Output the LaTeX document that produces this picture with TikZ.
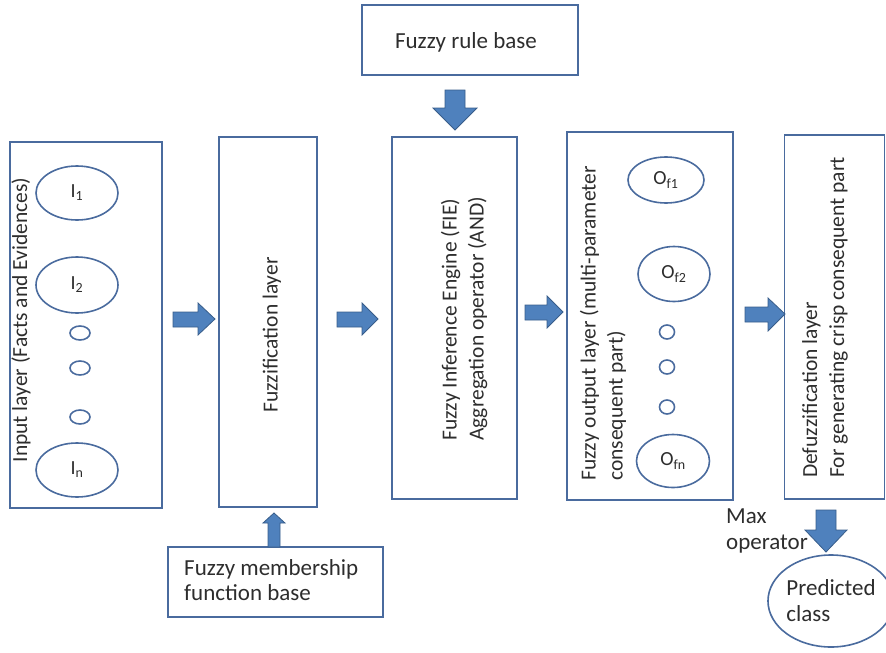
\documentclass[tikz,border=0pt]{standalone}
\usepackage{fontspec}
\setmainfont{Carlito}
\usetikzlibrary{shapes.geometric}
\definecolor{boxline}{RGB}{74,107,158}
\definecolor{arrowfill}{RGB}{79,129,189}
\definecolor{arrowline}{RGB}{56,93,138}
\definecolor{txt}{RGB}{45,45,45}
\tikzset{
  layerbox/.style={draw=boxline, line width=1.6pt, inner sep=0pt, outer sep=0pt, rectangle},
  oval/.style={draw=boxline, line width=1.6pt, ellipse, inner sep=0pt, text=txt, font=\fontsize{20}{22}\selectfont},
  dotoval/.style={draw=boxline, line width=1.6pt, ellipse, inner sep=0pt},
  lbl/.style={text=txt, font=\fontsize{21.5}{27}\selectfont, inner sep=0pt},
  hlbl/.style={text=txt, font=\fontsize{23}{25.5}\selectfont, inner sep=0pt},
  barrow/.style={fill=arrowfill, draw=arrowline, line width=0.8pt, line join=miter},
}
\begin{document}
\begin{tikzpicture}[x=1pt,y=-1pt]
\useasboundingbox (0,0) rectangle (886,653);
% boxes
\node[layerbox, minimum width=152, minimum height=366] (inbox) at (86,325) {};
\node[layerbox, minimum width=98, minimum height=370] (fuzzbox) at (268,322) {};
\node[layerbox, minimum width=125, minimum height=362] (fiebox) at (454.5,318) {};
\node[layerbox, minimum width=166, minimum height=368] (outbox) at (650,316) {};
\node[layerbox, minimum width=100, minimum height=364] (defbox) at (834.5,317) {};
\node[layerbox, minimum width=216, minimum height=70] (rulebox) at (470,40) {};
\node[layerbox, minimum width=215, minimum height=70] (mfbox) at (275.5,582) {};
% box texts
\node[hlbl] (rulet) at (466,42) {Fuzzy rule base};
\node[hlbl, align=left, anchor=west] (mft) at (184,580) {Fuzzy membership\\function base};
\node[lbl, rotate=90] (int) at (21,320) {Input layer (Facts and Evidences)};
\node[lbl, rotate=90] (fuzzt) at (272,335) {Fuzzification layer};
\node[lbl, rotate=90, align=left, anchor=west] (fiet) at (464,441) {Fuzzy Inference Engine (FIE)\\Aggregation operator (AND)};
\node[lbl, rotate=90, align=left, anchor=west] (outt) at (603,481) {Fuzzy output layer (multi-parameter\\consequent part)};
\node[lbl, rotate=90, align=left, anchor=west] (deft) at (825,478) {Defuzzification layer\\For generating crisp consequent part};
\node[hlbl, align=left, anchor=west] (maxt) at (726,531) {Max\\operator};
% input ovals
\node[oval, minimum width=82, minimum height=54] (i1) at (77,193) {I\textsubscript{1}};
\node[oval, minimum width=82, minimum height=56] (i2) at (77,285) {I\textsubscript{2}};
\node[dotoval, minimum width=20, minimum height=14] (id1) at (80,333) {};
\node[dotoval, minimum width=20, minimum height=14] (id2) at (80,368) {};
\node[dotoval, minimum width=20, minimum height=14] (id3) at (80,417) {};
\node[oval, minimum width=82, minimum height=54] (in) at (77,470) {I\textsubscript{n}};
% output ovals
\node[oval, minimum width=76, minimum height=46] (o1) at (666,180) {O\textsubscript{f1}};
\node[oval, minimum width=72, minimum height=55] (o2) at (674,274) {O\textsubscript{f2}};
\node[dotoval, minimum width=15, minimum height=14] (od1) at (667,332) {};
\node[dotoval, minimum width=15, minimum height=14] (od2) at (667,367) {};
\node[dotoval, minimum width=15, minimum height=14] (od3) at (667,407) {};
\node[oval, minimum width=73, minimum height=53] (on) at (673,461) {O\textsubscript{fn}};
% predicted class
\node[oval, minimum width=118, minimum height=92, align=left, font=\fontsize{23}{26}\selectfont] (pred) at (831,601) {Predicted\\class};
% block arrows
\draw[barrow] (173,312)--(198,312)--(198,303)--(215,319)--(198,335)--(198,327)--(173,327)--cycle;
\draw[barrow] (337,312)--(362,312)--(362,303)--(378,319)--(362,335)--(362,327)--(337,327)--cycle;
\draw[barrow] (525,305)--(547,305)--(547,296)--(563,312)--(547,328)--(547,320)--(525,320)--cycle;
\draw[barrow] (745,307)--(768,307)--(768,298)--(785,314)--(768,331)--(768,322)--(745,322)--cycle;
\draw[barrow] (445,90)--(465,90)--(465,108)--(477,108)--(455,130)--(433,108)--(445,108)--cycle;
\draw[barrow] (268,547)--(268,523)--(263,523)--(274,513)--(285,523)--(280,523)--(280,547)--cycle;
\draw[barrow] (816,510)--(836,510)--(836,530)--(847,530)--(826,552)--(805,530)--(816,530)--cycle;
\end{tikzpicture}
\end{document}
